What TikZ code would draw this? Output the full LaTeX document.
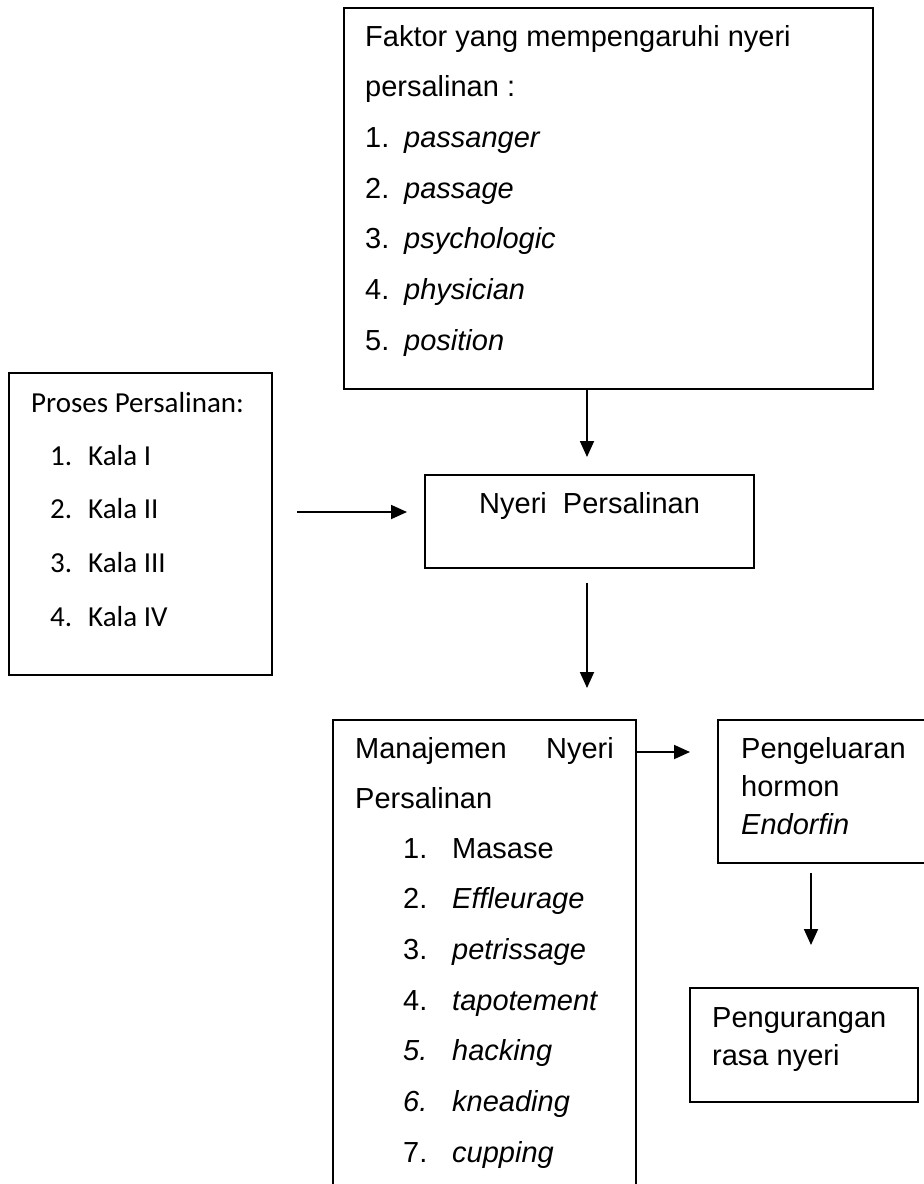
\documentclass[tikz,border=0pt]{standalone}
\usepackage{fontspec}
\setmainfont{Liberation Sans}
\newfontfamily\calibrifont{Carlito}
\usetikzlibrary{arrows.meta}
\begin{document}
\begin{tikzpicture}[x=1pt,y=-1pt,
  box/.style={draw, line width=1.5pt, inner sep=0pt},
  txt/.style={anchor=base west, inner sep=0pt, font=\fontsize{29}{35}\selectfont},
  txtr/.style={anchor=base east, inner sep=0pt, font=\fontsize{29}{35}\selectfont},
  ctxt/.style={anchor=base west, inner sep=0pt, font=\calibrifont\fontsize{29}{35}\selectfont},
  arr/.style={line width=1.8pt, -{Triangle[length=16pt,width=14pt]}}]
\useasboundingbox (0,0) rectangle (924,1184);
\clip (0,0) rectangle (924,1184);
\fill[white] (0,0) rectangle (924,1184);

% boxes
\node[box, minimum width=529pt, minimum height=381pt] (faktor) at (608.5,198.5) {};
\node[box, minimum width=263pt, minimum height=302pt] (proses) at (140.5,524) {};
\node[box, minimum width=329pt, minimum height=93pt] (nyeri) at (589.5,521.5) {};
\node[box, minimum width=303pt, minimum height=490pt] (manaj) at (484.5,965) {};
\node[box, minimum width=232pt, minimum height=143pt] (hormon) at (834,791.5) {};
\node[box, minimum width=228pt, minimum height=114pt] (kurang) at (804,1045) {};

% faktor text
\node[txt] (f0) at (365,46) {Faktor yang mempengaruhi nyeri};
\node[txt] (f1) at (365,96.7) {persalinan :};
\node[txt] (f2n) at (365,147.4) {1.};
\node[txt] (f2) at (404,147.4) {\itshape passanger};
\node[txt] (f3n) at (365,198) {2.};
\node[txt] (f3) at (404,198) {\itshape passage};
\node[txt] (f4n) at (365,248.8) {3.};
\node[txt] (f4) at (404,248.8) {\itshape psychologic};
\node[txt] (f5n) at (365,299.5) {4.};
\node[txt] (f5) at (404,299.5) {\itshape physician};
\node[txt] (f6n) at (365,350) {5.};
\node[txt] (f6) at (404,350) {\itshape position};

% proses text
\node[ctxt] (p0) at (31,412) {Proses Persalinan:};
\node[ctxt] (p1n) at (50,465) {1.};
\node[ctxt] (p1) at (88,465) {Kala I};
\node[ctxt] (p2n) at (50,518.7) {2.};
\node[ctxt] (p2) at (88,518.7) {Kala II};
\node[ctxt] (p3n) at (50,572.4) {3.};
\node[ctxt] (p3) at (88,572.4) {Kala III};
\node[ctxt] (p4n) at (50,626) {4.};
\node[ctxt] (p4) at (88,626) {Kala IV};

% nyeri text
\node[txt] (n0) at (479,513) {Nyeri~~Persalinan};

% manajemen text
\node[txt] (m0) at (355,758) {Manajemen};
\node[txtr] (m0b) at (614,758) {Nyeri};
\node[txt] (m1) at (355,808) {Persalinan};
\node[txt] (m2n) at (403,858) {1.};
\node[txt] (m2) at (452,858) {Masase};
\node[txt] (m3n) at (403,908.5) {2.};
\node[txt] (m3) at (452,908.5) {\itshape Effleurage};
\node[txt] (m4n) at (403,959) {3.};
\node[txt] (m4) at (452,959) {\itshape petrissage};
\node[txt] (m5n) at (403,1010) {4.};
\node[txt] (m5) at (452,1010) {\itshape tapotement};
\node[txt] (m6n) at (403,1060.5) {\itshape 5.};
\node[txt] (m6) at (452,1060.5) {\itshape hacking};
\node[txt] (m7n) at (403,1111) {\itshape 6.};
\node[txt] (m7) at (452,1111) {\itshape kneading};
\node[txt] (m8n) at (403,1162) {7.};
\node[txt] (m8) at (452,1162) {\itshape cupping};

% hormon text
\node[txt] (h0) at (741,758) {Pengeluaran};
\node[txt] (h1) at (741,796) {hormon};
\node[txt] (h2) at (741,834) {\itshape Endorfin};

% kurang text
\node[txt] (k0) at (712,1027) {Pengurangan};
\node[txt] (k1) at (712,1065) {rasa nyeri};

% arrow end points
\coordinate (a1e) at (587,457);
\coordinate (a2s) at (297,512);
\coordinate (a2e) at (407,512);
\coordinate (a3s) at (587,583);
\coordinate (a3e) at (587,688);
\coordinate (a4e) at (690,752);
\coordinate (a5s) at (811,873);
\coordinate (a5e) at (811,945);

\draw[arr] (faktor.south -| a1e) -- (a1e);
\draw[arr] (a2s) -- (a2e);
\draw[arr] (a3s) -- (a3e);
\draw[arr] (manaj.east |- a4e) -- (a4e);
\draw[arr] (a5s) -- (a5e);
\end{tikzpicture}
\end{document}
